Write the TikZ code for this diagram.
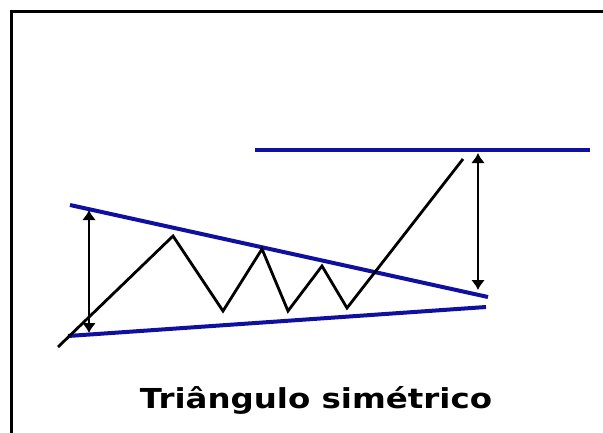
\documentclass[tikz,border=0pt]{standalone}
\usepackage{fontspec}
\newfontfamily\titlefont{DejaVu Sans}
\usetikzlibrary{arrows.meta}
\definecolor{trendblue}{RGB}{15,15,160}
\begin{document}
\begin{tikzpicture}[x=1pt, y=-1pt,
    trend/.style={trendblue, line width=4pt},
    price/.style={black, line width=2.8pt, line join=miter},
    measure/.style={black, line width=2pt, {Latex[length=10pt,width=14pt]}-{Latex[length=10pt,width=14pt]}}]
    % Canvas
    \useasboundingbox (0,0) rectangle (603,432);
    \clip (0,0) rectangle (603,432);
    \draw[line width=3pt] (11,11) rectangle (640,470);

    % Triangle borders
    \coordinate (upA) at (70,205);
    \coordinate (upB) at (488,297);
    \coordinate (loA) at (68,336);
    \coordinate (loB) at (486,307);
    \draw[trend] (upA) -- (upB);
    \draw[trend] (loA) -- (loB);

    % Target level
    \coordinate (tgA) at (255,150);
    \coordinate (tgB) at (590,150);
    \draw[trend] (tgA) -- (tgB);

    % Price path
    \coordinate (p0) at (58,347);
    \coordinate (p1) at (173,236);
    \coordinate (p2) at (223,311);
    \coordinate (p3) at (262,249);
    \coordinate (p4) at (288,311);
    \coordinate (p5) at (322,266);
    \coordinate (p6) at (347,308);
    \coordinate (p7) at (463,159);
    \draw[price] (p0) -- (p1) -- (p2) -- (p3) -- (p4) -- (p5) -- (p6) -- (p7);

    % Height of the triangle and projected move
    \coordinate (hTop) at (89,210);
    \coordinate (hBot) at (89,333);
    \draw[measure] (hTop) -- (hBot);
    \coordinate (mTop) at (478,153);
    \coordinate (mBot) at (478,290);
    \draw[measure] (mTop) -- (mBot);

    % Caption
    \node[xscale=1.18] (caption) at (316,400) {\titlefont\bfseries\fontsize{27.5}{30}\selectfont Triângulo simétrico};
\end{tikzpicture}
\end{document}
